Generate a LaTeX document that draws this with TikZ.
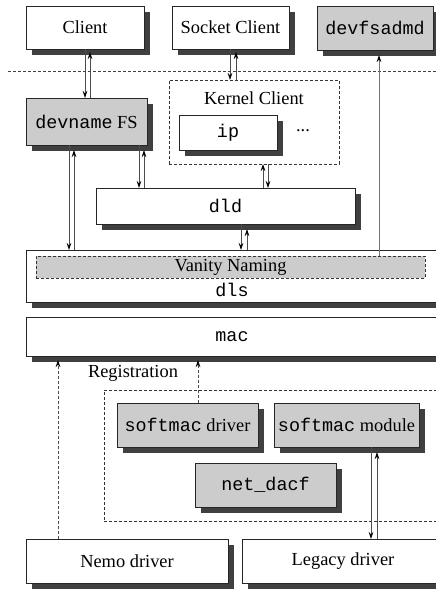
\documentclass[tikz,border=0pt]{standalone}
\usepackage{fontspec}
\setmainfont{Liberation Serif}
\setmonofont{Liberation Mono}
\usetikzlibrary{shadows,arrows.meta}
\begin{document}
\begin{tikzpicture}[x=1pt,y=-1pt,
 font=\fontsize{18.4}{20}\selectfont,
 box/.style={draw=black!85, line width=0.7pt, fill=white, inner sep=0pt, outer sep=0pt, anchor=north west,
   drop shadow={shadow xshift=6pt,shadow yshift=-6pt,fill=black!75,opacity=1}},
 gbox/.style={box, fill=black!20},
 dashbox/.style={draw=black!80, dash pattern=on 3pt off 2pt, line width=0.7pt, inner sep=0pt, outer sep=0pt, anchor=north west},
 arr/.style={draw=black!70, line width=0.7pt, -{Stealth[length=7pt,width=4.5pt,black]}},
 darr/.style={arr, dash pattern=on 3pt off 2pt},
 sz/.style 2 args={minimum width=#1pt, minimum height=#2pt},
]
\useasboundingbox (0,0) rectangle (436,589);
\clip (0,0) rectangle (436,589);

% top row
\node[box, sz={118}{43}] (client) at (26,6) {Client};
\node[box, sz={117}{43}] (socket) at (172,6) {Socket Client};
\node[gbox, sz={116}{44}] (devfsadmd) at (317,6) {\ttfamily devfsadmd};

\draw[draw=black!75, line width=0.7pt, dash pattern=on 3pt off 2pt] (8,71) -- (436,71);

% kernel client
\node[dashbox, sz={170}{84}] (kernel) at (169,80) {};
\node (kclabel) at ([yshift=-18pt]kernel.north) {Kernel Client};
\node[box, sz={98}{35}] (ip) at (179,115) {\ttfamily ip};
\node (dots) at (303,131) {...};

\node[gbox, sz={121}{47}] (devname) at (26,98) {{\ttfamily devname} FS};

\node[box, sz={259}{36}] (dld) at (96,188) {\ttfamily dld};

% dls
\node[box, sz={412}{52}] (dls) at (26,250) {};
\node[dashbox, fill=black!20, sz={389}{22}] (vanity) at (36,256) {Vanity Naming};
\node (dlslabel) at (232,290) {\ttfamily dls};

\node[box, sz={412}{39}] (mac) at (26,317) {\ttfamily mac};

\node (reglabel) at (133,373) {Registration};
\node[dashbox, sz={336}{131}] (reg) at (104,390) {};

\node[gbox, sz={141}{44}] (smd) at (117,403) {{\ttfamily softmac} driver};
\node[gbox, sz={145}{44}] (smm) at (274,403) {{\ttfamily softmac} module};
\node[gbox, sz={141}{44}] (netdacf) at (195,463) {\ttfamily net\_dacf};

\node[box, sz={202}{44}] (nemo) at (26,539) {Nemo driver};
\node[box, sz={202}{44}] (legacy) at (242,539) {Legacy driver};

% connectors
\draw[arr] ([xshift=0pt]client.south) -- ([xshift=-1.5pt]devname.north);
\draw[arr] ([xshift=3.5pt]devname.north) -- ([xshift=5pt,yshift=-3pt]client.south);

\draw[arr] ([xshift=-0.5pt]socket.south) -- ([xshift=-24pt]kernel.north);
\draw[arr] ([xshift=-18pt]kernel.north) -- ([xshift=5.5pt,yshift=-3pt]socket.south);

\draw[arr, draw=black!55] ([xshift=148.5pt]vanity.north) -- ([xshift=4pt,yshift=-5pt]devfsadmd.south);

\draw[arr] ([xshift=-17.5pt]devname.south) -- ([xshift=-163pt]dls.north);
\draw[arr] ([xshift=-158pt]dls.north) -- ([xshift=-12.5pt,yshift=-5pt]devname.south);

\draw[arr] ([xshift=52.5pt]devname.south) -- ([xshift=-86.5pt]dld.north);
\draw[arr] ([xshift=-81.5pt]dld.north) -- ([xshift=57.5pt,yshift=-5pt]devname.south);

\draw[arr] ([xshift=37.5pt]dld.north) -- ([xshift=9pt]kernel.south);
\draw[arr] ([xshift=14pt]kernel.south) -- ([xshift=42.5pt]dld.north);

\draw[arr] ([xshift=15.5pt]dld.south) -- ([xshift=9pt]dls.north);
\draw[arr] ([xshift=15pt]dls.north) -- ([xshift=21.5pt,yshift=-5pt]dld.south);

\draw[darr] ([xshift=-69pt]nemo.north) -- ([xshift=-174pt,yshift=-4pt]mac.south);
\draw[darr] ([xshift=10.5pt]smd.north) -- ([xshift=-34pt,yshift=-4pt]mac.south);

\draw[arr] ([xshift=24.5pt]smm.south) -- ([xshift=28pt]legacy.north);
\draw[arr] ([xshift=34pt]legacy.north) -- ([xshift=30.5pt,yshift=-5pt]smm.south);
\end{tikzpicture}
\end{document}
